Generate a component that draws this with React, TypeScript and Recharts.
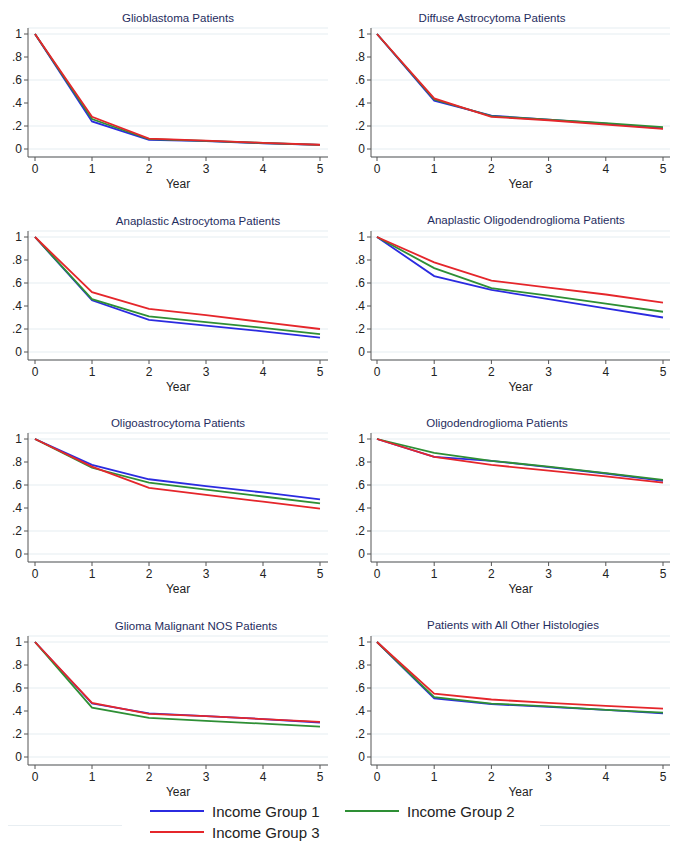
import React from "react";
import { LineChart, Line, XAxis, YAxis, CartesianGrid } from "recharts";

const years = [0, 1, 2, 3, 4, 5];
const yTicks = [0, 0.2, 0.4, 0.6, 0.8, 1];

const titles = [
  "Glioblastoma Patients",
  "Diffuse Astrocytoma Patients",
  "Anaplastic Astrocytoma Patients",
  "Anaplastic Oligodendroglioma Patients",
  "Oligoastrocytoma Patients",
  "Oligodendroglioma Patients",
  "Glioma Malignant NOS Patients",
  "Patients with All Other Histologies",
];

// survival proportion by year, per income group
const glioG1 = [1, 0.24, 0.08, 0.068, 0.05, 0.035];
const glioG2 = [1, 0.26, 0.085, 0.07, 0.052, 0.036];
const glioG3 = [1, 0.28, 0.09, 0.072, 0.054, 0.037];

const diffG1 = [1, 0.42, 0.29, 0.255, 0.22, 0.18];
const diffG2 = [1, 0.43, 0.285, 0.255, 0.225, 0.19];
const diffG3 = [1, 0.44, 0.28, 0.25, 0.212, 0.175];

const anaAstroG1 = [1, 0.45, 0.28, 0.23, 0.18, 0.125];
const anaAstroG2 = [1, 0.46, 0.31, 0.26, 0.21, 0.155];
const anaAstroG3 = [1, 0.52, 0.375, 0.32, 0.26, 0.2];

const anaOligoG1 = [1, 0.66, 0.54, 0.46, 0.38, 0.3];
const anaOligoG2 = [1, 0.73, 0.555, 0.49, 0.42, 0.35];
const anaOligoG3 = [1, 0.78, 0.62, 0.56, 0.5, 0.43];

const oligoAstroG1 = [1, 0.775, 0.65, 0.59, 0.535, 0.475];
const oligoAstroG2 = [1, 0.75, 0.62, 0.56, 0.5, 0.44];
const oligoAstroG3 = [1, 0.76, 0.575, 0.515, 0.455, 0.395];

const oligoG1 = [1, 0.845, 0.81, 0.755, 0.7, 0.635];
const oligoG2 = [1, 0.88, 0.81, 0.76, 0.703, 0.645];
const oligoG3 = [1, 0.845, 0.775, 0.725, 0.675, 0.62];

const nosG1 = [1, 0.465, 0.38, 0.355, 0.33, 0.3];
const nosG2 = [1, 0.43, 0.34, 0.315, 0.29, 0.265];
const nosG3 = [1, 0.47, 0.375, 0.355, 0.33, 0.305];

const otherG1 = [1, 0.51, 0.46, 0.435, 0.41, 0.38];
const otherG2 = [1, 0.52, 0.465, 0.44, 0.41, 0.385];
const otherG3 = [1, 0.55, 0.5, 0.47, 0.445, 0.42];

const seriesByPanel = [
  [glioG1, glioG2, glioG3],
  [diffG1, diffG2, diffG3],
  [anaAstroG1, anaAstroG2, anaAstroG3],
  [anaOligoG1, anaOligoG2, anaOligoG3],
  [oligoAstroG1, oligoAstroG2, oligoAstroG3],
  [oligoG1, oligoG2, oligoG3],
  [nosG1, nosG2, nosG3],
  [otherG1, otherG2, otherG3],
];

const groupNames = ["Income Group 1", "Income Group 2", "Income Group 3"];
const groupColors = ["#2b2be0", "#2e8f35", "#e5262b"];

// layout
const rowTops = [28, 231, 433, 636];
const titleCenters = [
  [178, 18], [492, 18], [198, 221], [526, 220],
  [178, 423], [497, 423], [196, 626], [513, 625],
];
const FONT = "'Liberation Sans', Arial, sans-serif";

const fmtY = (v: number) => (v === 0 ? "0" : v === 1 ? "1" : "." + Math.round(v * 10));

function Panel({ idx }: { idx: number }) {
  const col = idx % 2;
  const row = Math.floor(idx / 2);
  const [g1, g2, g3] = seriesByPanel[idx];
  const data = years.map((y, i) => ({ year: y, g1: g1[i], g2: g2[i], g3: g3[i] }));
  const left = col === 0 ? 0 : 343;
  const width = col === 0 ? 340 : 336;
  const rightMargin = col === 0 ? 12 : 9;
  const pad = col === 0 ? { left: 7, right: 8 } : { left: 6, right: 7 };
  const top = rowTops[row] - 8;
  const [tx, ty] = titleCenters[idx];

  return (
    <>
      <div
        style={{
          position: "absolute",
          left: tx - 150,
          width: 300,
          top: ty - 8,
          height: 16,
          lineHeight: "16px",
          textAlign: "center",
          fontSize: 11.5,
          color: "#1f2d5e",
          fontFamily: FONT,
        }}
      >
        {titles[idx]}
      </div>
      <div style={{ position: "absolute", left, top }}>
        <LineChart width={width} height={8 + 129 + 36} data={data} margin={{ top: 8, right: rightMargin, left: 0, bottom: 0 }}>
          <CartesianGrid vertical={false} stroke="#e6edf2" strokeWidth={1.2} />
          <XAxis
            type="number"
            dataKey="year"
            domain={[0, 5]}
            ticks={years}
            padding={pad}
            height={36}
            tickSize={4}
            tickMargin={3}
            stroke="#555"
            tick={{ fill: "#222", fontSize: 12, fontFamily: FONT }}
            label={{ value: "Year", position: "insideBottom", offset: 5, fill: "#222", fontSize: 12, fontFamily: FONT }}
          />
          <YAxis
            type="number"
            domain={[0, 1]}
            ticks={yTicks}
            padding={{ top: 6, bottom: 8 }}
            width={28}
            tickSize={4}
            tickMargin={2}
            stroke="#555"
            tickFormatter={fmtY}
            tick={{ fill: "#222", fontSize: 12, fontFamily: FONT }}
          />
          {["g1", "g2", "g3"].map((k, i) => (
            <Line
              key={k}
              type="linear"
              dataKey={k}
              stroke={groupColors[i]}
              strokeWidth={1.8}
              dot={false}
              isAnimationActive={false}
            />
          ))}
        </LineChart>
      </div>
    </>
  );
}

function LegendItem({ x, y, idx }: { x: number; y: number; idx: number }) {
  return (
    <div style={{ position: "absolute", left: x, top: y - 10, height: 20, display: "flex", alignItems: "center" }}>
      <svg width={54} height={4} style={{ display: "block" }}>
        <line x1={0} y1={2} x2={54} y2={2} stroke={groupColors[idx]} strokeWidth={1.8} />
      </svg>
      <span style={{ marginLeft: 8, fontSize: 15, color: "#222", fontFamily: FONT, whiteSpace: "nowrap" }}>
        {groupNames[idx]}
      </span>
    </div>
  );
}

export default function App() {
  return (
    <div style={{ position: "absolute", left: 0, top: 0, width: 679, height: 854, background: "#fff", overflow: "hidden" }}>
      {titles.map((_, i) => (
        <Panel key={i} idx={i} />
      ))}
      <div style={{ position: "absolute", left: 8, top: 825, width: 114, height: 1, background: "#e8eef2" }} />
      <div style={{ position: "absolute", left: 540, top: 825, width: 130, height: 1, background: "#e8eef2" }} />
      <LegendItem x={150} y={811} idx={0} />
      <LegendItem x={345} y={811} idx={1} />
      <LegendItem x={150} y={832} idx={2} />
    </div>
  );
}
